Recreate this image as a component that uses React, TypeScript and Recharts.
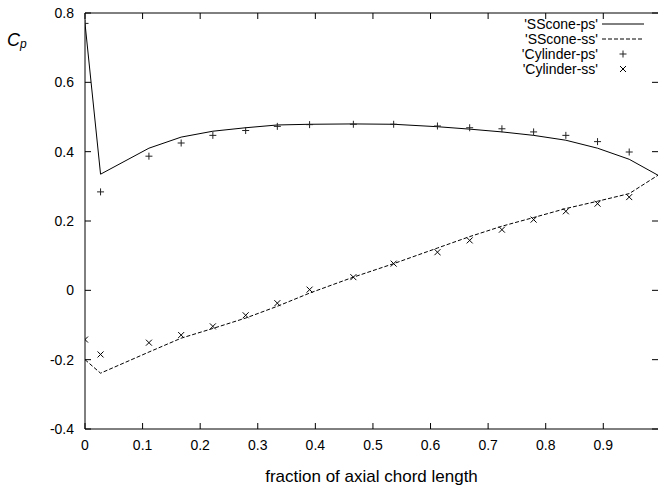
import React from "react";
import {
  ComposedChart,
  Line,
  Scatter,
  XAxis,
  YAxis,
  Legend,
  ReferenceLine,
} from "recharts";

// chord positions of the SScone curves (last point is the trailing edge)
const lineX = [0, 0.027, 0.111, 0.167, 0.222, 0.279, 0.334, 0.39, 0.466, 0.536, 0.612, 0.668, 0.724, 0.779, 0.835, 0.89, 0.945, 0.995];
const sconePs = [0.77, 0.335, 0.41, 0.442, 0.459, 0.469, 0.477, 0.479, 0.48, 0.479, 0.472, 0.465, 0.457, 0.447, 0.433, 0.41, 0.378, 0.332];
const sconeSs = [-0.2, -0.239, -0.178, -0.138, -0.11, -0.08, -0.046, -0.008, 0.038, 0.077, 0.122, 0.155, 0.185, 0.21, 0.236, 0.257, 0.279, 0.332];

const cylinderX = [0, 0.027, 0.111, 0.167, 0.222, 0.279, 0.334, 0.39, 0.466, 0.536, 0.612, 0.668, 0.724, 0.779, 0.835, 0.89, 0.945];
const cylinderPs = [0.77, 0.284, 0.387, 0.425, 0.447, 0.461, 0.473, 0.478, 0.479, 0.479, 0.474, 0.469, 0.466, 0.457, 0.447, 0.429, 0.399];
const cylinderSs = [-0.142, -0.185, -0.151, -0.129, -0.104, -0.072, -0.037, 0.002, 0.038, 0.077, 0.11, 0.144, 0.175, 0.204, 0.228, 0.25, 0.269];

const xTicks = [0, 0.1, 0.2, 0.3, 0.4, 0.5, 0.6, 0.7, 0.8, 0.9];
const yTicks = [-0.4, -0.2, 0, 0.2, 0.4, 0.6, 0.8];

const legendItems = [
  { label: "'SScone-ps'", kind: "solid" },
  { label: "'SScone-ss'", kind: "dashed" },
  { label: "'Cylinder-ps'", kind: "plus" },
  { label: "'Cylinder-ss'", kind: "cross" },
];

const toRows = (xs: number[], ys: number[]) => xs.map((x, i) => ({ x, y: ys[i] }));

const FONT = "'Liberation Sans', Arial, Helvetica, sans-serif";
const LEFT = 85;
const RIGHT = 658;
const TOP = 13;
const BOTTOM = 429;
const TICK = 6;

const fmt = (v: number) => (Math.abs(v) < 1e-9 ? "0" : v.toFixed(1));

const XTick = (props: any) => {
  const { x, payload } = props;
  return (
    <g>
      <line x1={x} x2={x} y1={BOTTOM} y2={BOTTOM - TICK} stroke="#000" />
      <line x1={x} x2={x} y1={TOP} y2={TOP + TICK} stroke="#000" />
      <text x={x} y={445} dy="0.35em" textAnchor="middle" fontFamily={FONT} fontSize={14} fill="#000">
        {fmt(payload.value)}
      </text>
    </g>
  );
};

const YTick = (props: any) => {
  const { y, payload } = props;
  return (
    <g>
      <line x1={LEFT} x2={LEFT + TICK} y1={y} y2={y} stroke="#000" />
      <line x1={RIGHT - TICK} x2={RIGHT} y1={y} y2={y} stroke="#000" />
      <text x={74} y={y} dy="0.35em" textAnchor="end" fontFamily={FONT} fontSize={14} fill="#000">
        {fmt(payload.value)}
      </text>
    </g>
  );
};

const Plus = (props: any) => {
  const { cx, cy } = props;
  const r = 3.5;
  return <path d={`M${cx - r},${cy}H${cx + r}M${cx},${cy - r}V${cy + r}`} stroke="#222" strokeWidth={1} fill="none" />;
};

const Cross = (props: any) => {
  const { cx, cy } = props;
  const r = 3;
  return <path d={`M${cx - r},${cy - r}L${cx + r},${cy + r}M${cx - r},${cy + r}L${cx + r},${cy - r}`} stroke="#000" strokeWidth={1} fill="none" />;
};

const Sample = ({ kind, y }: { kind: string; y: number }) => {
  if (kind === "solid") return <line x1={162} x2={204} y1={y} y2={y} stroke="#000" />;
  if (kind === "dashed") return <line x1={162} x2={204} y1={y} y2={y} stroke="#000" strokeDasharray="4 2" />;
  if (kind === "plus") return <Plus cx={183} cy={y} />;
  return <Cross cx={183} cy={y} />;
};

const KeyBox = () => (
  <svg width={215} height={70} style={{ display: "block" }}>
    {legendItems.map((it, i) => {
      const y = 10 + i * 15;
      return (
        <g key={it.label}>
          <text x={158} y={y} dy="0.35em" textAnchor="end" fontFamily={FONT} fontSize={14} fill="#000">
            {it.label}
          </text>
          <Sample kind={it.kind} y={y} />
        </g>
      );
    })}
  </svg>
);

export default function App() {
  return (
    <div style={{ position: "absolute", left: 0, top: 0, width: 658, height: 490, background: "#fff" }}>
      <ComposedChart width={658} height={490} margin={{ top: TOP, right: 0, bottom: 0, left: 8 }}>
        <XAxis
          type="number"
          dataKey="x"
          domain={[0, 0.995]}
          ticks={xTicks}
          interval={0}
          tick={<XTick />}
          tickLine={false}
          axisLine={{ stroke: "#000" }}
          height={61}
          allowDataOverflow
          label={{ value: "fraction of axial chord length", position: "insideBottom", offset: 8, fontFamily: FONT, fontSize: 17, fill: "#000" }}
        />
        <YAxis
          type="number"
          dataKey="y"
          domain={[-0.4, 0.8]}
          ticks={yTicks}
          interval={0}
          tick={<YTick />}
          tickLine={false}
          axisLine={{ stroke: "#000" }}
          width={77}
          allowDataOverflow
        />
        <ReferenceLine y={0.8} stroke="#000" />
        <Line data={toRows(lineX, sconePs)} dataKey="y" stroke="#000" strokeWidth={1} dot={false} isAnimationActive={false} />
        <Line data={toRows(lineX, sconeSs)} dataKey="y" stroke="#000" strokeWidth={1} strokeDasharray="4 2" dot={false} isAnimationActive={false} />
        <Scatter data={toRows(cylinderX, cylinderPs)} dataKey="y" shape={<Plus />} isAnimationActive={false} />
        <Scatter data={toRows(cylinderX, cylinderSs)} dataKey="y" shape={<Cross />} isAnimationActive={false} />
        <Legend
          layout="horizontal"
          verticalAlign="middle"
          align="center"
          content={<KeyBox />}
          wrapperStyle={{ top: 14, left: 440, width: 215, height: 70 }}
        />
      </ComposedChart>
      <div style={{ position: "absolute", left: 7, top: 30, fontFamily: FONT, color: "#000", whiteSpace: "nowrap" }}>
        <span style={{ fontStyle: "italic", fontSize: 18 }}>C</span>
        <span style={{ fontStyle: "italic", fontSize: 12, position: "relative", top: 2 }}>p</span>
      </div>
    </div>
  );
}
